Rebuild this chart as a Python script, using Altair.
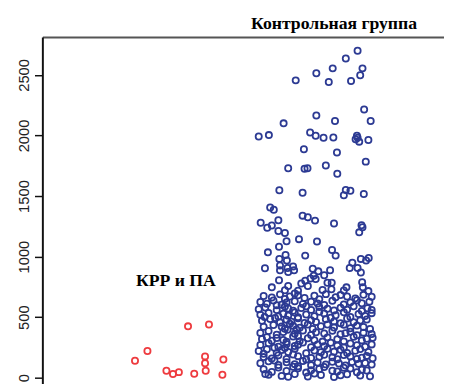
import altair as alt
import pandas as pd

groups = ["КРР и ПА", "Контрольная группа"]
group_index = [1, 2]
spacing = 417  # jitter units per group step

# Group 1 (red): jitter offsets and values
red_jitter = [-134, -96, -38, -18, 0, 28, 47, 80, 80, 82, 92, 136, 133]
red_values = [140, 221, 57, 30, 46, 424, 32, 176, 119, 57, 440, 151, 24]

# Group 2 (blue): jitter offsets and values
blue_jitter = [
    129, 93, 53, 144, 3, 137, -60, 41, 109, 149, 3, 169, 60, -97,
    -173, -142, -16, 1, 25, 55, 127, 129, 123, 134, 162, -35, 66, 154,
    -83, -33, -24, 32, 67, -110, -39, 93, 107, 87, 148,
    -138, -127, -39, -23, -1, -167, -113, -133, -147, 57, 141, 144, 134,
    -113, -93, -50, 5, -88, -111, 51, 62, -145, -91, -31, -110, -87, 139,
    163, 155, 113, -108, -154, 129, 105, 139, -85, -68, -65, -83, -108,
    -8, 9, 45, -5, 27, -15, 1, -111, -31, 37, 50, -43, 143, -133, -83,
    -23, 95, 145, -93, -53, 22, 49, 87, 162,
    -158, -133, -108, -78, -53, -33, -3, 32, 62, 77, 97, 122, 147, 172, -93, 12, -63,
    -168, -148, -128, -103, -88, -63, -38, -13, 7, 52, 87, 107, 127, 142, 165, 27, -118,
    -173, -153, -118, -93, -68, -43, -13, 12, 37, 57, 77, 97, 117, 142, 159, 172, -83, -28,
    -168, -143, -113, -98, -83, -63, -53, -28, -3, 27, 62, 87, 107, 132, 152, 172, -155, 12,
    -163, -138, -108, -88, -73, -53, -33, -13, 2, 32, 57, 77, 97, 117, 137, 157, -123, 47,
    -158, -128, -93, -68, -48, -23, -8, 17, 57, 87, 107, 127, 147, 167, -78, -103, -58, 37,
    -168, -143, -118, -98, -63, -38, -13, 2, 27, 52, 77, 107, 127, 147, 172, -85, -53, 92,
    -163, -148, -133, -118, -98, -68, -48, -23, -3, 37, 67, 87, 117, 142, 157, 175, -88, 22,
    -168, -143, -113, -88, -63, -38, -13, 7, 27, 47, 67, 87, 107, 127, 152, 172, -125, -53,
    -173, -148, -118, -103, -83, -63, -28, -3, 17, 37, 57, 77, 97, 122, 137, 162, -158, -93,
    -158, -113, -88, -53, -13, 27, 67, 107, 142, -133, -68, -28, 12, 52, 87, 127, 157, 175,
    -168, -143, -113, -88, -63, -38, -13, 7, 32, 52, 72, 92, 112, 132, 152, 172, -125, -53,
    -158, -113, -88, -53, -13, 27, 67, 107, 142, -133, -68, -28, 12, 52, 87, 127, 157, -153,
    -143, -103, -63, -23, 17, 57, 97, 137, 167, -83, -3, 77,
]
blue_values = [
    2700, 2636, 2554, 2554, 2514, 2498, 2455, 2441, 2449, 2214, 2165, 2119, 2119, 2100,
    1992, 2003, 2025, 1998, 1981, 1984, 1998, 1981, 1968, 1949, 1963, 1887, 1860, 1784,
    1730, 1725, 1730, 1752, 1684, 1547, 1527, 1549, 1543, 1506, 1517,
    1405, 1387, 1338, 1324, 1297, 1279, 1300, 1257, 1238, 1273, 1259, 1243, 1200,
    1211, 1195, 1144, 1125, 1127, 1081, 1054, 1008, 1035, 1014, 1008, 981, 968, 981,
    989, 968, 949, 927, 903, 906, 906, 868, 906, 919, 887, 873, 887,
    900, 878, 887, 841, 846, 819, 814, 805, 800, 784, 784, 778, 789, 746, 757,
    757, 746, 746, 722, 718, 725, 730, 720, 715,
    675, 662, 688, 670, 681, 659, 676, 690, 665, 682, 670, 655, 684, 668, 650, 648, 695,
    625, 610, 638, 602, 620, 632, 608, 627, 612, 636, 605, 622, 640, 615, 628, 600, 598,
    565, 580, 558, 588, 552, 575, 560, 583, 570, 555, 578, 562, 590, 551, 574, 560, 572, 590,
    520, 535, 505, 528, 512, 538, 500, 522, 508, 531, 515, 540, 502, 526, 510, 533, 502, 545,
    470, 485, 455, 478, 462, 490, 452, 475, 460, 482, 465, 450, 488, 458, 472, 480, 492, 495,
    420, 435, 405, 428, 412, 440, 402, 425, 415, 438, 408, 430, 418, 403, 445, 422, 398, 440,
    370, 385, 355, 378, 362, 390, 352, 375, 365, 388, 358, 380, 350, 372, 360, 395, 345, 368,
    320, 335, 305, 328, 312, 340, 302, 325, 310, 333, 318, 300, 338, 308, 322, 330, 296, 298,
    270, 285, 255, 278, 262, 290, 252, 275, 260, 288, 265, 250, 282, 268, 256, 275, 248, 272,
    220, 235, 205, 228, 212, 240, 202, 225, 210, 238, 215, 230, 204, 222, 236, 212, 198, 245,
    170, 185, 155, 178, 162, 190, 152, 175, 165, 158, 192, 150, 172, 168, 188, 155, 180, 160,
    120, 135, 105, 128, 112, 138, 102, 125, 110, 132, 118, 100, 130, 115, 122, 108, 142, 95,
    70, 85, 55, 78, 62, 88, 52, 75, 65, 48, 90, 42, 72, 58, 82, 45, 60, 30,
    25, 15, 30, 10, 22, 5, 28, 18, 12, 8, 35, 20,
]

y_ticks = [0, 500, 1000, 1500, 2000, 2500]
label_pos_x = [408, 891]
label_pos_y = [754, 2880]
colors = ["#EE3B3F", "#2C3A93"]

rows = []
for j, v in zip(red_jitter, red_values):
    rows.append({"group": groups[0], "pos": group_index[0] * spacing + j, "value": v})
for j, v in zip(blue_jitter, blue_values):
    rows.append({"group": groups[1], "pos": group_index[1] * spacing + j, "value": v})
df = pd.DataFrame(rows)

labels = pd.DataFrame({"group": groups, "pos": label_pos_x, "value": label_pos_y})

x_scale = alt.Scale(domain=[0, 1227], nice=False, zero=False)
y_scale = alt.Scale(domain=[-48.6, 2813.5], nice=False, zero=False)

points = alt.Chart(df).mark_point(
    shape="circle", filled=False, size=40, strokeWidth=1.8, opacity=1, clip=False
).encode(
    x=alt.X("pos:Q", scale=x_scale,
            axis=alt.Axis(orient="top", labels=False, ticks=False, grid=False,
                          domain=True, domainColor="#555555", domainWidth=2, title=None)),
    y=alt.Y("value:Q", scale=y_scale,
            axis=alt.Axis(values=y_ticks, format="d", labelAngle=270, labelAlign="center",
                          labelBaseline="bottom", labelFont="Liberation Sans",
                          labelFontSize=15, labelColor="#222222", labelPadding=3,
                          tickSize=8, tickWidth=1.5, tickColor="#111111",
                          domainColor="#111111", domainWidth=2, grid=False, title=None)),
    color=alt.Color("group:N", scale=alt.Scale(domain=groups, range=colors), legend=None),
)

texts = alt.Chart(labels).mark_text(
    font="Liberation Serif", fontWeight="bold", fontSize=18, color="#000000",
    align="center", baseline="alphabetic", clip=False
).encode(
    x=alt.X("pos:Q", scale=x_scale),
    y=alt.Y("value:Q", scale=y_scale),
    text="group:N",
)

chart = alt.layer(points, texts).properties(
    width=409, height=353,
    autosize=alt.AutoSizeParams(type="none"),
    padding={"left": 35, "top": 26, "right": 0, "bottom": 0},
).configure_view(stroke=None)

chart.save("out.html", embed_options={"renderer": "svg", "actions": False})
